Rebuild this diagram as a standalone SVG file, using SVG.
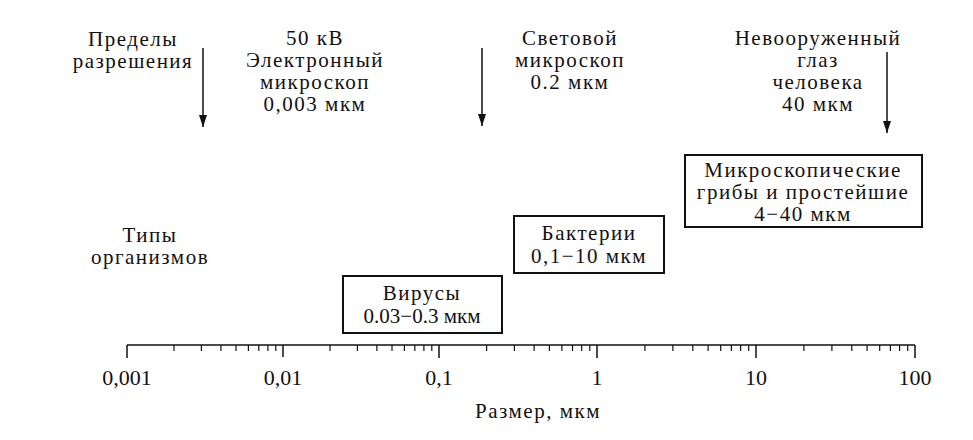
<svg xmlns="http://www.w3.org/2000/svg" width="973" height="440" viewBox="0 0 973 440">
<style>
text{font-family:"Liberation Serif","Times New Roman",serif;font-size:21px;fill:#111;text-anchor:middle}
.lbl{letter-spacing:1.5px}
.num{font-size:22px}
.box{fill:#fff;stroke:#111;stroke-width:2}
.arr{stroke:#111;stroke-width:1.5;fill:none}
.ax{stroke:#111;stroke-width:1.5;fill:none}
.mn{stroke:#111;stroke-width:1.2}
</style>
<defs>
<marker id="ah" viewBox="0 0 12 8" refX="12" refY="4" markerWidth="12" markerHeight="8" markerUnits="userSpaceOnUse" orient="auto">
<path d="M0,0 L12,4 L0,8 Z" fill="#111"/>
</marker>
</defs>
<rect width="973" height="440" fill="#fff"/>

<g id="limits-label">
<text class="lbl" x="133" y="46">Пределы</text>
<text class="lbl" x="133" y="68">разрешения</text>
</g>
<g id="electron">
<text class="lbl" x="315" y="45">50 кВ</text>
<text class="lbl" x="315" y="67">Электронный</text>
<text class="lbl" x="315" y="89">микроскоп</text>
<text class="lbl" x="315" y="111">0,003 мкм</text>
</g>
<g id="light">
<text class="lbl" x="570" y="45">Световой</text>
<text class="lbl" x="570" y="67">микроскоп</text>
<text class="lbl" x="570" y="89">0.2 мкм</text>
</g>
<g id="eye">
<text class="lbl" x="818" y="45">Невооруженный</text>
<text class="lbl" x="818" y="67">глаз</text>
<text class="lbl" x="818" y="89">человека</text>
<text class="lbl" x="818" y="111">40 мкм</text>
</g>
<g id="types-label">
<text class="lbl" x="150" y="242">Типы</text>
<text class="lbl" x="150" y="264">организмов</text>
</g>

<g id="viruses">
<rect class="box" x="343" y="276" width="159" height="57"/>
<text class="lbl" x="422" y="300">Вирусы</text>
<text x="422" y="323">0.03−0.3 мкм</text>
</g>
<g id="bacteria">
<rect class="box" x="514" y="216" width="150" height="57"/>
<text class="lbl" x="589" y="240">Бактерии</text>
<text class="lbl" x="589" y="263">0,1−10 мкм</text>
</g>
<g id="fungi">
<rect class="box" x="685" y="155" width="237" height="72"/>
<text class="lbl" x="803" y="177">Микроскопические</text>
<text class="lbl" x="803" y="199">грибы и простейшие</text>
<text class="lbl" x="803" y="221">4−40 мкм</text>
</g>

<g id="connectors">
<line class="arr" x1="203" y1="48" x2="203" y2="127" marker-end="url(#ah)"/>
<line class="arr" x1="482" y1="48" x2="482" y2="126" marker-end="url(#ah)"/>
<line class="arr" x1="887" y1="52" x2="887" y2="133" marker-end="url(#ah)"/>
</g>

<g id="axis">
<line class="ax" x1="127" y1="345" x2="915" y2="345"/>
<path class="ax" d="M127,345V358M283,345V357M439,345V358M597,345V358M756,345V358M915,345V358"/>
<path class="mn" d="M174,345V351M201.4,345V351M220.9,345V351M236,345V351M248.4,345V351M258.8,345V351M267.9,345V351M275.8,345V351
M330,345V351M357.4,345V351M376.9,345V351M392,345V351M404.4,345V351M414.8,345V351M423.9,345V351M431.8,345V351
M486.6,345V351M514.4,345V351M534.1,345V351M549.4,345V351M561.9,345V351M572.5,345V351M581.7,345V351M589.8,345V351
M644.9,345V351M672.9,345V351M692.8,345V351M708.1,345V351M720.7,345V351M731.4,345V351M740.6,345V351M748.7,345V351
M803.9,345V351M831.9,345V351M851.8,345V351M867.1,345V351M879.7,345V351M890.4,345V351M899.6,345V351M907.7,345V351"/>
<text class="num" x="127" y="385">0,001</text>
<text class="num" x="283" y="385">0,01</text>
<text class="num" x="439" y="385">0,1</text>
<text class="num" x="597" y="385">1</text>
<text class="num" x="756" y="385">10</text>
<text class="num" x="915" y="385">100</text>
<text class="lbl" x="538" y="418">Размер, мкм</text>
</g>
</svg>
